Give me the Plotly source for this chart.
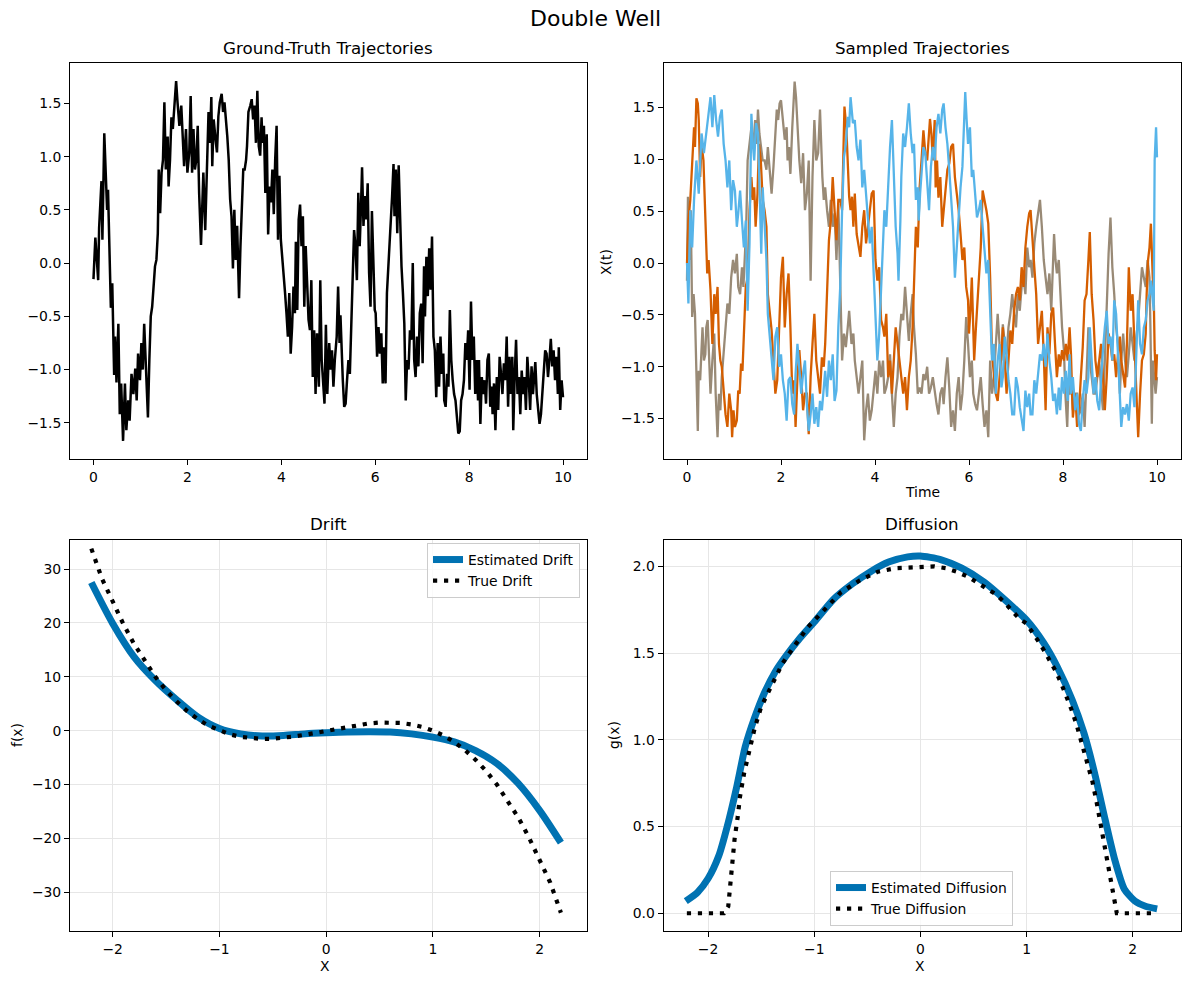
import plotly.graph_objects as go

# ---------------- data ----------------
gt_time = [
    0.00, 0.04, 0.10, 0.12, 0.17, 0.19, 0.23, 0.26, 0.29, 0.31,
    0.34, 0.37, 0.40, 0.44, 0.46, 0.49, 0.53, 0.56, 0.59, 0.63,
    0.67, 0.70, 0.74, 0.77, 0.81, 0.85, 0.89, 0.92, 0.95, 0.99,
    1.02, 1.05, 1.08, 1.11, 1.14, 1.16, 1.19, 1.22, 1.25, 1.28,
    1.31, 1.34, 1.37, 1.39, 1.42, 1.45, 1.48, 1.51, 1.54, 1.58,
    1.60, 1.63, 1.66, 1.69, 1.73, 1.76, 1.79, 1.83, 1.87, 1.90,
    1.93, 1.97, 2.00, 2.04, 2.07, 2.10, 2.13, 2.16, 2.19, 2.22,
    2.25, 2.29, 2.31, 2.34, 2.38, 2.42, 2.45, 2.48, 2.51, 2.53,
    2.56, 2.60, 2.63, 2.66, 2.69, 2.73, 2.76, 2.79, 2.82, 2.85,
    2.88, 2.91, 2.94, 2.97, 3.00, 3.03, 3.06, 3.10, 3.13, 3.16,
    3.19, 3.22, 3.25, 3.27, 3.30, 3.34, 3.37, 3.40, 3.43, 3.46,
    3.49, 3.52, 3.55, 3.58, 3.60, 3.63, 3.66, 3.69, 3.72, 3.75,
    3.78, 3.81, 3.84, 3.87, 3.90, 3.93, 3.96, 3.99, 4.02, 4.05,
    4.08, 4.11, 4.14, 4.17, 4.20, 4.23, 4.26, 4.29, 4.31, 4.34,
    4.37, 4.40, 4.43, 4.46, 4.49, 4.52, 4.55, 4.58, 4.61, 4.64,
    4.67, 4.70, 4.73, 4.76, 4.80, 4.83, 4.86, 4.89, 4.92, 4.95,
    4.98, 5.02, 5.05, 5.08, 5.11, 5.14, 5.18, 5.21, 5.24, 5.26,
    5.28, 5.31, 5.34, 5.37, 5.40, 5.43, 5.46, 5.49, 5.52, 5.55,
    5.58, 5.61, 5.64, 5.67, 5.70, 5.72, 5.75, 5.78, 5.81, 5.84,
    5.87, 5.90, 5.93, 5.96, 5.99, 6.01, 6.04, 6.07, 6.10, 6.13,
    6.16, 6.19, 6.22, 6.25, 6.28, 6.31, 6.34, 6.36, 6.39, 6.41,
    6.44, 6.47, 6.50, 6.53, 6.56, 6.59, 6.62, 6.65, 6.68, 6.71,
    6.74, 6.77, 6.80, 6.83, 6.86, 6.89, 6.92, 6.95, 6.98, 7.01,
    7.04, 7.06, 7.09, 7.12, 7.15, 7.18, 7.21, 7.24, 7.27, 7.30,
    7.33, 7.36, 7.39, 7.42, 7.45, 7.47, 7.50, 7.53, 7.56, 7.59,
    7.62, 7.65, 7.68, 7.71, 7.74, 7.77, 7.80, 7.83, 7.86, 7.89,
    7.92, 7.95, 7.98, 8.01, 8.04, 8.07, 8.10, 8.13, 8.16, 8.19,
    8.21, 8.24, 8.27, 8.30, 8.33, 8.36, 8.39, 8.42, 8.45, 8.48,
    8.50, 8.53, 8.56, 8.59, 8.62, 8.65, 8.68, 8.71, 8.74, 8.77,
    8.80, 8.83, 8.86, 8.89, 8.92, 8.94, 8.97, 9.00, 9.03, 9.06,
    9.09, 9.12, 9.15, 9.18, 9.21, 9.24, 9.27, 9.30, 9.33, 9.36,
    9.39, 9.41, 9.44, 9.47, 9.50, 9.53, 9.56, 9.59, 9.62, 9.65,
    9.68, 9.71, 9.74, 9.77, 9.80, 9.83, 9.86, 9.89, 9.91, 9.94,
    9.97, 10.00,
]
gt_value = [
    -0.15, 0.24, -0.16, 0.33, 0.77, 0.22, 1.22, 0.88, 0.50, 0.69,
    0.22, -0.42, -0.19, -1.05, -0.69, -1.12, -0.57, -1.42, -1.13, -1.67,
    -1.13, -1.57, -1.29, -1.48, -1.04, -1.23, -0.99, -1.29, -0.85, -1.10,
    -0.75, -1.00, -0.57, -0.91, -1.10, -1.45, -0.91, -0.50, -0.41, -0.22,
    -0.03, 0.03, 0.28, 0.88, 0.47, 0.85, 0.97, 1.51, 0.88, 1.19,
    0.72, 0.97, 1.37, 1.26, 1.54, 1.71, 1.51, 1.29, 1.48, 1.19,
    0.91, 1.26, 0.85, 1.04, 1.57, 0.85, 1.26, 0.88, 0.97, 1.29,
    0.66, 0.17, 0.53, 0.85, 0.31, 0.97, 1.42, 1.13, 1.56, 0.91,
    1.35, 1.16, 1.04, 1.38, 1.51, 1.59, 1.42, 1.51, 1.38, 1.19,
    0.97, 0.60, 0.44, -0.05, 0.50, 0.03, 0.35, -0.33, 0.16, 0.60,
    0.88, 0.88, 0.97, 1.10, 1.42, 1.48, 1.54, 1.35, 1.48, 1.13,
    1.62, 1.10, 1.01, 1.37, 1.13, 1.29, 0.66, 1.21, 0.27, 0.72,
    0.57, 0.88, 0.46, 0.97, 1.29, 0.22, 0.82, 0.22, 0.03, -0.19,
    -0.28, -0.47, -0.69, -0.28, -0.85, -0.60, -0.22, -0.47, 0.20, -0.44,
    0.41, 0.55, 0.16, 0.44, -0.41, 0.16, -0.25, -0.53, -0.63, -0.16,
    -1.07, -0.63, -1.23, -0.66, -1.16, -0.16, -0.91, -1.13, -1.32, -0.58,
    -1.23, -0.75, -1.00, -0.82, -1.16, -0.91, -0.69, -0.22, -0.75, -0.49,
    -0.82, -1.10, -1.35, -1.32, -1.10, -0.91, -1.04, -0.60, -0.35, 0.31,
    0.16, -0.16, 0.66, 0.16, 0.57, 0.90, 0.35, 0.63, 0.41, 0.75,
    -0.09, -0.41, 0.49, 0.03, -0.44, -0.47, -0.88, -0.60, -0.85, -0.66,
    -1.13, -0.79, -1.13, -0.28, -0.03, 0.25, 0.38, 0.63, 0.93, 0.44,
    0.88, 0.28, 0.92, 0.28, -0.03, -0.28, -0.57, -1.29, -0.91, -1.00,
    -0.63, -0.72, 0.00, -0.91, -1.07, -0.69, -0.97, -0.47, -0.38, -0.94,
    -0.03, -0.50, 0.06, -0.31, 0.14, -0.25, 0.25, -0.69, -0.82, -1.26,
    -0.75, -1.16, -0.69, -1.04, -0.85, -1.29, -1.35, -1.04, -1.16, -0.44,
    -0.91, -1.10, -1.23, -1.29, -1.42, -1.60, -1.58, -1.29, -1.23, -1.10,
    -0.75, -0.91, -0.63, -1.19, -0.36, -0.91, -0.69, -1.23, -0.91, -1.29,
    -0.91, -1.51, -1.07, -1.23, -1.10, -1.32, -0.91, -0.85, -1.35, -1.16,
    -1.42, -1.13, -1.57, -1.07, -1.38, -0.88, -1.04, -1.23, -0.94, -1.10,
    -0.69, -1.35, -0.88, -1.23, -0.88, -1.57, -1.07, -0.72, -1.23, -1.07,
    -1.42, -1.01, -1.23, -1.07, -1.38, -0.88, -1.10, -1.38, -0.97, -1.23,
    -1.04, -0.93, -1.23, -1.35, -1.51, -1.42, -1.23, -1.10, -0.82, -0.85,
    -1.07, -0.91, -0.71, -0.97, -0.82, -1.10, -0.88, -1.23, -0.79, -1.38,
    -1.10, -1.26,
]

blue_time = [
    0.00, 0.03, 0.07, 0.11, 0.15, 0.20, 0.25, 0.31, 0.36, 0.43,
    0.50, 0.54, 0.58, 0.62, 0.66, 0.70, 0.74, 0.78, 0.82, 0.86,
    0.90, 0.94, 0.98, 1.02, 1.06, 1.09, 1.13, 1.17, 1.21, 1.25,
    1.29, 1.33, 1.37, 1.40, 1.43, 1.47, 1.51, 1.55, 1.58, 1.61,
    1.65, 1.69, 1.72, 1.76, 1.80, 1.84, 1.88, 1.92, 1.96, 2.00,
    2.04, 2.08, 2.12, 2.16, 2.20, 2.24, 2.28, 2.31, 2.35, 2.39,
    2.43, 2.47, 2.51, 2.55, 2.59, 2.63, 2.67, 2.71, 2.75, 2.79,
    2.83, 2.87, 2.91, 2.94, 2.98, 3.02, 3.06, 3.10, 3.14, 3.18,
    3.22, 3.26, 3.30, 3.34, 3.38, 3.42, 3.45, 3.48, 3.53, 3.57,
    3.61, 3.65, 3.69, 3.73, 3.77, 3.81, 3.85, 3.89, 3.93, 3.97,
    4.01, 4.05, 4.09, 4.13, 4.17, 4.20, 4.24, 4.28, 4.32, 4.36,
    4.40, 4.44, 4.48, 4.50, 4.54, 4.56, 4.60, 4.64, 4.68, 4.72,
    4.76, 4.80, 4.83, 4.87, 4.91, 4.93, 4.96, 4.99, 5.03, 5.07,
    5.11, 5.15, 5.19, 5.23, 5.27, 5.31, 5.35, 5.39, 5.43, 5.46,
    5.50, 5.54, 5.58, 5.62, 5.66, 5.70, 5.74, 5.78, 5.82, 5.86,
    5.89, 5.92, 5.95, 5.98, 6.02, 6.06, 6.09, 6.13, 6.17, 6.21,
    6.25, 6.29, 6.33, 6.37, 6.41, 6.45, 6.49, 6.53, 6.57, 6.61,
    6.65, 6.69, 6.72, 6.76, 6.80, 6.84, 6.88, 6.92, 6.96, 7.00,
    7.04, 7.08, 7.12, 7.16, 7.20, 7.24, 7.28, 7.31, 7.35, 7.39,
    7.43, 7.47, 7.51, 7.55, 7.59, 7.63, 7.67, 7.71, 7.75, 7.79,
    7.83, 7.87, 7.91, 7.94, 7.98, 8.02, 8.06, 8.10, 8.14, 8.17,
    8.21, 8.26, 8.30, 8.34, 8.38, 8.42, 8.46, 8.50, 8.54, 8.57,
    8.61, 8.65, 8.69, 8.73, 8.77, 8.81, 8.85, 8.89, 8.93, 8.97,
    9.01, 9.05, 9.09, 9.13, 9.17, 9.21, 9.24, 9.28, 9.32, 9.36,
    9.40, 9.44, 9.48, 9.52, 9.56, 9.60, 9.64, 9.68, 9.72, 9.76,
    9.80, 9.84, 9.87, 9.91, 9.93, 9.95, 9.98, 10.00,
]
blue_value = [
    0.00, -0.39, 0.51, 0.15, 0.61, 0.99, 0.67, 1.25, 1.06, 1.31,
    1.60, 1.31, 1.62, 1.38, 1.22, 1.41, 1.48, 1.15, 0.99, 0.73,
    0.99, 0.51, 0.80, 0.70, 0.35, 0.48, 0.70, 0.41, 0.15, 0.41,
    -0.46, 0.19, 1.44, 1.15, 0.99, 1.35, 1.25, 0.61, 0.09, 0.73,
    0.35, 0.03, -0.49, -0.68, -0.94, -1.13, -0.71, -0.62, -1.00, -0.88,
    -1.13, -1.26, -1.52, -1.13, -1.10, -1.36, -1.46, -1.07, -0.78, -1.04,
    -1.26, -1.07, -0.94, -1.36, -1.62, -1.46, -1.26, -1.55, -1.39, -1.58,
    -1.33, -1.42, -1.20, -1.04, -1.29, -0.94, -1.13, -0.88, -1.33, -1.23,
    -0.62, -0.23, 0.51, 1.02, 1.15, 1.41, 1.31, 1.60, 1.35, 1.38,
    1.12, 0.99, 1.19, 0.73, 0.90, 0.67, 0.44, 0.19, 0.35, -0.14,
    -0.62, -0.94, -0.68, -0.30, 0.15, 0.51, 0.35, 0.83, 1.12, 1.38,
    0.83, 0.35, 0.09, -0.17, 0.41, 0.83, 1.25, 1.12, 1.31, 1.54,
    1.25, 1.06, 1.15, 0.61, 0.73, 0.41, 0.67, 0.83, 1.12, 1.06,
    0.83, 0.51, 0.93, 1.12, 0.99, 1.31, 1.44, 1.25, 1.48, 1.54,
    1.31, 1.15, 0.90, 0.67, 0.35, -0.14, 0.15, 0.51, 0.73, 0.93,
    1.31, 1.65, 1.38, 1.15, 1.31, 0.83, 0.90, 0.70, 0.44, 0.51,
    0.61, 0.35, 0.15, -0.10, 0.03, -0.39, -0.94, -0.78, -1.26, -0.94,
    -0.78, -1.20, -1.10, -0.71, -0.88, -1.13, -1.26, -1.46, -1.46, -1.10,
    -1.20, -1.39, -1.52, -1.62, -1.23, -1.39, -1.26, -1.46, -1.46, -1.13,
    -1.26, -1.10, -0.88, -0.94, -0.78, -1.00, -0.68, -0.94, -1.10, -1.33,
    -1.26, -1.46, -1.20, -1.42, -1.10, -1.26, -1.04, -1.33, -0.88, -1.26,
    -1.10, -1.42, -1.26, -1.55, -1.62, -1.33, -1.13, -1.26, -1.10, -0.62,
    -0.94, -1.26, -1.10, -1.33, -1.42, -1.10, -0.84, -0.62, -0.46, -0.78,
    -0.71, -0.94, -0.36, -0.49, -0.94, -1.26, -1.58, -1.39, -1.46, -1.36,
    -1.52, -1.26, -1.20, -1.39, -0.94, -0.36, -0.78, -0.88, -0.62, -0.55,
    -0.36, -0.30, -0.17, -0.43, -0.46, 0.99, 1.31, 1.02,
]

orange_time = [
    0.00, 0.03, 0.07, 0.11, 0.15, 0.17, 0.20, 0.23, 0.25, 0.28,
    0.31, 0.35, 0.39, 0.43, 0.46, 0.50, 0.54, 0.58, 0.61, 0.65,
    0.68, 0.71, 0.74, 0.78, 0.82, 0.86, 0.90, 0.94, 0.96, 0.99,
    1.02, 1.06, 1.09, 1.12, 1.15, 1.18, 1.21, 1.25, 1.29, 1.33,
    1.37, 1.40, 1.43, 1.46, 1.50, 1.53, 1.57, 1.61, 1.65, 1.69,
    1.72, 1.76, 1.80, 1.84, 1.88, 1.92, 1.96, 2.00, 2.04, 2.08,
    2.12, 2.16, 2.20, 2.24, 2.28, 2.31, 2.35, 2.39, 2.43, 2.47,
    2.51, 2.55, 2.59, 2.63, 2.67, 2.71, 2.75, 2.79, 2.83, 2.87,
    2.91, 2.94, 2.98, 3.02, 3.06, 3.10, 3.14, 3.18, 3.22, 3.26,
    3.30, 3.34, 3.35, 3.39, 3.42, 3.45, 3.48, 3.51, 3.54, 3.57,
    3.61, 3.65, 3.69, 3.73, 3.77, 3.81, 3.85, 3.89, 3.93, 3.97,
    4.01, 4.05, 4.09, 4.13, 4.17, 4.20, 4.24, 4.28, 4.32, 4.36,
    4.40, 4.44, 4.48, 4.52, 4.56, 4.60, 4.64, 4.68, 4.72, 4.76,
    4.80, 4.83, 4.87, 4.91, 4.95, 4.99, 5.03, 5.07, 5.11, 5.17,
    5.20, 5.23, 5.27, 5.29, 5.32, 5.35, 5.39, 5.43, 5.46, 5.50,
    5.54, 5.58, 5.62, 5.66, 5.70, 5.74, 5.78, 5.82, 5.86, 5.90,
    5.94, 5.98, 6.00, 6.03, 6.06, 6.09, 6.11, 6.14, 6.17, 6.21,
    6.25, 6.29, 6.33, 6.37, 6.41, 6.45, 6.49, 6.53, 6.57, 6.61,
    6.65, 6.69, 6.72, 6.76, 6.80, 6.84, 6.88, 6.92, 6.96, 7.00,
    7.04, 7.08, 7.12, 7.16, 7.20, 7.24, 7.28, 7.31, 7.35, 7.39,
    7.43, 7.47, 7.51, 7.55, 7.59, 7.63, 7.67, 7.71, 7.75, 7.79,
    7.83, 7.87, 7.91, 7.94, 7.98, 8.02, 8.06, 8.10, 8.14, 8.17,
    8.21, 8.26, 8.30, 8.34, 8.38, 8.42, 8.46, 8.50, 8.54, 8.57,
    8.61, 8.65, 8.69, 8.73, 8.77, 8.81, 8.85, 8.89, 8.93, 8.97,
    9.01, 9.05, 9.09, 9.13, 9.17, 9.21, 9.24, 9.28, 9.32, 9.36,
    9.40, 9.44, 9.48, 9.52, 9.56, 9.60, 9.64, 9.68, 9.72, 9.76,
    9.78, 9.81, 9.84, 9.87, 9.91, 9.93, 9.95, 9.98, 10.00,
]
orange_value = [
    0.00, 0.41, 0.61, 0.99, 1.31, 1.12, 1.59, 1.54, 1.38, 0.83,
    1.15, 0.99, 0.35, -0.10, 0.03, -0.26, -0.78, -0.30, -0.49, -0.23,
    -0.78, -0.94, -1.00, -1.26, -1.46, -1.58, -1.26, -1.42, -1.68, -1.42,
    -1.58, -1.52, -1.23, -1.26, -0.97, -1.04, -0.62, -0.23, -0.14, 0.51,
    0.83, 0.61, 0.73, 0.35, 0.67, 1.15, 0.99, 0.61, 0.51, 0.35,
    -0.30, -0.46, -0.65, -0.94, -1.26, -1.13, -0.62, -0.14, 0.06, -0.62,
    -0.30, -0.10, -0.62, -1.26, -1.13, -1.58, -1.10, -0.84, -1.10, -1.42,
    -1.26, -1.26, -1.65, -1.10, -0.78, -0.49, -0.94, -1.10, -1.26, -0.91,
    -1.00, -0.78, -0.30, 0.22, 0.41, 0.83, 0.51, 0.22, 0.61, 0.61,
    0.51, 1.15, 1.51, 1.31, 0.99, 0.64, 0.51, 0.64, 0.35, 0.67,
    0.28, 0.15, 0.06, 0.35, 0.51, 0.19, 0.35, 0.51, 0.67, 0.70,
    0.03, -0.17, -0.04, -0.55, -0.62, -0.71, -0.49, -1.10, -0.94, -1.26,
    -0.94, -0.62, -0.78, -0.94, -1.13, -1.26, -1.10, -1.42, -1.10, -0.94,
    -0.62, -0.26, 0.35, 0.15, 0.73, 0.99, 1.28, 1.06, 0.99, 1.39,
    1.25, 0.99, 1.38, 0.73, 0.99, 0.63, 0.83, 0.35, 0.51, 0.77,
    0.90, 0.96, 1.12, 1.15, 0.83, 0.67, 0.51, 0.28, 0.03, 0.15,
    -0.23, -0.36, -0.68, -0.46, -0.14, -0.62, -0.94, -0.68, -0.46, -0.10,
    0.15, 0.70, 0.61, 0.51, 0.38, -0.14, -0.88, -1.10, -1.26, -1.33,
    -1.13, -0.88, -0.62, -0.94, -1.26, -0.94, -0.65, -0.78, -0.46, -0.30,
    -0.23, -0.36, -0.04, -0.23, 0.15, 0.35, 0.48, 0.51, 0.19, -0.04,
    -0.30, -0.78, -0.62, -0.46, -0.88, -1.42, -0.62, -0.88, -0.49, -0.43,
    -0.78, -1.10, -0.88, -1.00, -0.84, -0.94, -0.78, -0.94, -0.62, -0.88,
    -1.49, -1.26, -1.58, -1.42, -1.10, -0.81, -0.36, -0.30, 0.03, 0.30,
    -0.30, -0.55, -0.94, -1.10, -0.94, -0.78, -1.10, -1.42, -1.10, -0.68,
    -0.78, -0.94, -0.88, -1.10, -0.88, -0.71, -0.94, -1.10, -1.20, -0.78,
    -0.04, -0.46, -0.30, -0.78, -1.20, -1.68, -1.26, -0.94, -0.88, -0.68,
    -0.30, 0.03, 0.15, 0.38, -0.14, -0.30, -0.84, -1.13, -0.88,
]

tan_time = [
    0.00, 0.02, 0.05, 0.08, 0.11, 0.14, 0.17, 0.20, 0.23, 0.25,
    0.28, 0.33, 0.36, 0.39, 0.41, 0.44, 0.47, 0.50, 0.54, 0.58,
    0.61, 0.65, 0.68, 0.71, 0.74, 0.78, 0.82, 0.86, 0.90, 0.94,
    0.98, 1.02, 1.06, 1.09, 1.13, 1.17, 1.20, 1.23, 1.26, 1.29,
    1.33, 1.37, 1.41, 1.45, 1.48, 1.51, 1.54, 1.57, 1.61, 1.65,
    1.69, 1.72, 1.76, 1.80, 1.84, 1.88, 1.91, 1.94, 1.97, 2.00,
    2.04, 2.08, 2.12, 2.14, 2.17, 2.20, 2.24, 2.27, 2.29, 2.32,
    2.35, 2.39, 2.43, 2.47, 2.51, 2.55, 2.59, 2.63, 2.67, 2.71,
    2.75, 2.79, 2.83, 2.85, 2.88, 2.91, 2.94, 2.98, 3.02, 3.06,
    3.10, 3.14, 3.18, 3.22, 3.26, 3.30, 3.34, 3.38, 3.42, 3.45,
    3.50, 3.54, 3.57, 3.61, 3.65, 3.69, 3.73, 3.77, 3.81, 3.85,
    3.89, 3.93, 3.97, 4.01, 4.05, 4.09, 4.13, 4.17, 4.20, 4.24,
    4.28, 4.32, 4.36, 4.40, 4.44, 4.48, 4.52, 4.56, 4.60, 4.64,
    4.68, 4.72, 4.76, 4.80, 4.83, 4.87, 4.91, 4.95, 4.99, 5.03,
    5.07, 5.11, 5.15, 5.19, 5.23, 5.27, 5.31, 5.35, 5.39, 5.43,
    5.46, 5.50, 5.54, 5.58, 5.62, 5.66, 5.70, 5.74, 5.78, 5.82,
    5.86, 5.90, 5.94, 5.98, 6.02, 6.06, 6.09, 6.13, 6.17, 6.21,
    6.25, 6.29, 6.33, 6.37, 6.41, 6.45, 6.49, 6.53, 6.57, 6.61,
    6.65, 6.69, 6.72, 6.76, 6.80, 6.84, 6.88, 6.92, 6.96, 7.00,
    7.04, 7.08, 7.12, 7.16, 7.20, 7.24, 7.28, 7.31, 7.35, 7.39,
    7.43, 7.47, 7.51, 7.55, 7.59, 7.63, 7.67, 7.71, 7.75, 7.79,
    7.81, 7.84, 7.87, 7.91, 7.94, 7.98, 8.02, 8.05, 8.09, 8.11,
    8.14, 8.17, 8.21, 8.26, 8.30, 8.34, 8.38, 8.42, 8.46, 8.50,
    8.54, 8.57, 8.61, 8.65, 8.69, 8.73, 8.77, 8.81, 8.85, 8.89,
    8.93, 8.97, 9.01, 9.05, 9.09, 9.13, 9.17, 9.21, 9.24, 9.28,
    9.32, 9.36, 9.40, 9.44, 9.48, 9.52, 9.56, 9.60, 9.64, 9.68,
    9.72, 9.76, 9.80, 9.84, 9.86, 9.89, 9.91, 9.94, 9.97, 10.00,
]
tan_value = [
    -0.17, 0.64, 0.03, 0.51, -0.52, -0.30, -0.49, -1.10, -1.62, -1.04,
    -1.13, -0.62, -0.94, -0.88, -0.62, -0.55, -0.94, -1.26, -0.94, -0.68,
    -1.26, -1.68, -1.26, -1.42, -1.10, -0.88, -0.62, -0.39, -0.49, -0.14,
    0.03, -0.10, 0.09, -0.23, -0.30, -0.04, -0.23, 0.15, 0.35, 0.99,
    1.15, 1.31, 1.12, 1.38, 1.15, 1.48, 1.25, 1.12, 0.99, 0.99,
    0.90, 1.12, 0.90, 0.67, 0.93, 1.31, 1.48, 1.38, 1.54, 1.57,
    1.38, 1.19, 1.31, 0.99, 1.12, 0.86, 1.31, 1.64, 1.75, 1.60,
    1.31, 0.99, 0.77, 1.06, 0.51, 0.67, 0.99, -0.17, 0.83, 1.38,
    0.99, 1.06, 1.48, 1.15, 0.83, 0.61, 0.73, 0.51, 0.35, 0.61,
    0.35, 0.48, 0.03, 0.57, -0.36, -0.94, -0.68, -0.81, -0.62, -0.46,
    -0.78, -0.68, -0.94, -1.10, -1.26, -1.10, -0.94, -1.71, -1.42, -1.26,
    -1.52, -1.42, -1.20, -1.04, -1.26, -0.94, -1.10, -0.94, -1.26, -1.20,
    -1.10, -0.88, -1.26, -1.58, -1.26, -1.10, -0.71, -0.49, -0.55, -0.23,
    -0.49, -0.75, -0.49, -0.30, -0.62, -0.88, -1.26, -1.20, -1.26, -1.07,
    -1.13, -1.00, -1.26, -1.20, -1.10, -1.26, -1.36, -1.46, -1.26, -1.20,
    -1.36, -1.10, -0.91, -1.20, -1.58, -1.42, -1.62, -1.26, -1.10, -1.42,
    -1.26, -0.94, -0.52, -0.78, -1.10, -0.94, -1.26, -1.36, -1.42, -1.26,
    -1.10, -1.36, -1.58, -1.42, -1.68, -0.94, -1.26, -1.10, -0.78, -0.49,
    -0.78, -0.94, -0.59, -0.78, -0.88, -0.62, -0.49, -0.30, -0.49, -0.62,
    -0.30, -0.46, -0.23, -0.14, -0.30, 0.15, -0.04, 0.03, -0.14, 0.19,
    0.35, 0.48, 0.61, 0.35, 0.03, -0.14, -0.30, -0.10, -0.46, 0.03,
    0.28, 0.03, -0.10, 0.03, -0.30, -0.62, -0.84, -1.26, -1.58, -1.26,
    -1.26, -1.10, -1.42, -1.26, -1.26, -1.46, -1.42, -1.26, -1.58, -1.10,
    -0.62, -0.94, -1.10, -1.26, -1.26, -1.10, -0.94, -1.20, -1.42, -0.94,
    -0.30, 0.09, 0.44, -0.04, -0.30, -0.62, -0.78, -1.26, -0.94, -0.68,
    -0.94, -1.10, -0.88, -0.62, -0.78, -0.94, -0.71, -0.55, -0.30, -0.04,
    -0.14, -0.23, 0.03, -0.14, -0.62, -1.55, -0.94, -1.10, -1.26, -1.10,
]

drift_x_est = [-2.2, -2.0, -1.8, -1.6, -1.4, -1.2, -1.0, -0.8, -0.6, -0.4, -0.2, 0.0,
               0.2, 0.4, 0.6, 0.8, 1.0, 1.2, 1.4, 1.6, 1.8, 2.0, 2.2]
drift_est = [27.5, 19.9, 13.7, 9.3, 5.7, 2.5, 0.4, -0.6, -1.0, -0.9, -0.6, -0.4,
             -0.25, -0.2, -0.25, -0.6, -1.2, -2.1, -3.7, -6.1, -9.8, -14.8, -20.8]

drift_x_true = [-2.2, -2.1, -2.0, -1.9, -1.8, -1.7, -1.6, -1.5, -1.4, -1.3, -1.2, -1.1,
                -1.0, -0.9, -0.8, -0.7, -0.6, -0.5, -0.4, -0.3, -0.2, -0.1, 0.0,
                0.1, 0.2, 0.3, 0.4, 0.5, 0.6, 0.7, 0.8, 0.9, 1.0, 1.1, 1.2,
                1.3, 1.4, 1.5, 1.6, 1.7, 1.8, 1.9, 2.0, 2.1, 2.2]
drift_true = [33.8, 28.2, 24.0, 19.8, 16.1, 12.9, 10.0, 7.5, 5.4, 3.6, 2.1, 0.9,
              0.0, -0.7, -1.15, -1.43, -1.54, -1.5, -1.34, -1.09, -0.77, -0.4, 0.0,
              0.4, 0.77, 1.09, 1.34, 1.5, 1.54, 1.43, 1.15, 0.7, 0.0, -0.9, -2.1,
              -3.6, -5.4, -7.5, -10.0, -12.9, -16.1, -19.8, -24.0, -28.2, -33.8]

diff_x_est = [-2.21, -2.10, -2.00, -1.90, -1.82, -1.73, -1.65, -1.56, -1.47, -1.37,
              -1.27, -1.13, -1.00, -0.82, -0.64, -0.47, -0.30, -0.12, 0.00, 0.19,
              0.39, 0.60, 0.81, 1.00, 1.16, 1.29, 1.43, 1.54, 1.64, 1.74,
              1.83, 1.92, 2.02, 2.12, 2.23]
diff_est = [0.07, 0.12, 0.20, 0.33, 0.50, 0.73, 0.96, 1.13, 1.27, 1.39,
            1.48, 1.59, 1.68, 1.81, 1.90, 1.97, 2.025, 2.055, 2.06, 2.04,
            1.99, 1.91, 1.80, 1.69, 1.56, 1.42, 1.23, 1.04, 0.81, 0.54,
            0.31, 0.14, 0.07, 0.04, 0.025]

diff_x_true = [-2.2, -2.1, -2.0, -1.9, -1.85, -1.81, -1.80, -1.785, -1.77, -1.75,
               -1.72, -1.70, -1.66, -1.61, -1.56, -1.50, -1.40, -1.30, -1.20, -1.06,
               -0.92, -0.75, -0.57, -0.40, -0.23, 0.0, 0.13, 0.24, 0.34, 0.45,
               0.53, 0.62, 0.71, 0.78, 0.84, 0.93, 1.00, 1.07, 1.12, 1.17,
               1.22, 1.28, 1.33, 1.37, 1.42, 1.47, 1.52, 1.57, 1.62, 1.66,
               1.70, 1.74, 1.78, 1.82, 1.85, 1.9, 2.0, 2.1, 2.2]
diff_true = [0.0, 0.0, 0.0, 0.0, 0.0, 0.04, 0.11, 0.18, 0.29, 0.43,
             0.56, 0.67, 0.81, 0.94, 1.07, 1.19, 1.32, 1.44, 1.53, 1.65,
             1.74, 1.85, 1.92, 1.97, 1.99, 2.0, 2.0, 1.99, 1.97, 1.94,
             1.91, 1.88, 1.84, 1.80, 1.76, 1.70, 1.67, 1.61, 1.56, 1.51,
             1.46, 1.39, 1.32, 1.26, 1.18, 1.09, 0.98, 0.88, 0.76, 0.64,
             0.50, 0.36, 0.22, 0.08, 0.0, 0.0, 0.0, 0.0, 0.0]

# ---------------- styling ----------------
W, H = 1189, 985
FONT = "DejaVu Sans"
C_EST = "#0072B2"
C_ORANGE = "#D55E00"
C_SKY = "#56B4E9"
C_TAN = "#998A76"
DOT = "4.2px,6.8px"

fig = go.Figure()

fig.add_trace(go.Scatter(x=gt_time, y=gt_value, mode="lines",
                         line=dict(color="black", width=2.5),
                         showlegend=False, xaxis="x", yaxis="y"))

for t, v, c in [(tan_time, tan_value, C_TAN),
                (orange_time, orange_value, C_ORANGE),
                (blue_time, blue_value, C_SKY)]:
    fig.add_trace(go.Scatter(x=t, y=v, mode="lines", line=dict(color=c, width=2.3),
                             showlegend=False, xaxis="x2", yaxis="y2"))

fig.add_trace(go.Scatter(x=drift_x_est, y=drift_est, mode="lines", name="Estimated Drift",
                         line=dict(color=C_EST, width=7, shape="spline", smoothing=0.8),
                         xaxis="x3", yaxis="y3", legend="legend"))
fig.add_trace(go.Scatter(x=drift_x_true, y=drift_true, mode="lines", name="True Drift",
                         line=dict(color="black", width=4.2, dash=DOT),
                         xaxis="x3", yaxis="y3", legend="legend"))

fig.add_trace(go.Scatter(x=diff_x_est, y=diff_est, mode="lines", name="Estimated Diffusion",
                         line=dict(color=C_EST, width=7, shape="spline", smoothing=0.6),
                         xaxis="x4", yaxis="y4", legend="legend2"))
fig.add_trace(go.Scatter(x=diff_x_true, y=diff_true, mode="lines", name="True Diffusion",
                         line=dict(color="black", width=4.2, dash=DOT),
                         xaxis="x4", yaxis="y4", legend="legend2"))

tickfont = dict(family=FONT, size=13.9, color="black")
base = dict(showline=True, linecolor="black", linewidth=1, mirror=True,
            ticks="outside", ticklen=5, tickwidth=1, tickcolor="black",
            zeroline=False, showgrid=False, tickfont=tickfont)
grid = dict(showgrid=True, gridcolor="#e6e6e6", gridwidth=1)

colL = [70 / W, 586.5 / W]
colR = [663.5 / W, 1180.5 / W]
rowT = [1 - 459 / H, 1 - 63 / H]
rowB = [1 - 931 / H, 1 - 540 / H]

legend_style = dict(bgcolor="rgba(255,255,255,0.8)", bordercolor="#cccccc", borderwidth=1,
                    font=dict(family=FONT, size=13.9, color="black"), tracegroupgap=0)

fig.update_layout(
    width=W, height=H, margin=dict(l=0, r=0, t=0, b=0),
    paper_bgcolor="white", plot_bgcolor="white",
    font=dict(family=FONT, color="black"),
    xaxis=dict(base, domain=colL, anchor="y", range=[-0.5, 10.5], tick0=0, dtick=2),
    yaxis=dict(base, domain=rowT, anchor="x", range=[-1.84, 1.88], tick0=0, dtick=0.5, tickformat=".1f"),
    xaxis2=dict(base, domain=colR, anchor="y2", range=[-0.5, 10.5], tick0=0, dtick=2),
    yaxis2=dict(base, domain=rowT, anchor="x2", range=[-1.89, 1.93], tick0=0, dtick=0.5, tickformat=".1f"),
    xaxis3=dict(base, **grid, domain=colL, anchor="y3", range=[-2.40, 2.44], tick0=0, dtick=1),
    yaxis3=dict(base, **grid, domain=rowB, anchor="x3", range=[-37.2, 35.4], tick0=0, dtick=10),
    xaxis4=dict(base, **grid, domain=colR, anchor="y4", range=[-2.42, 2.45], tick0=0, dtick=1),
    yaxis4=dict(base, **grid, domain=rowB, anchor="x4", range=[-0.1025, 2.1525], tick0=0, dtick=0.5, tickformat=".1f"),
    legend=dict(legend_style, x=580 / W, y=1 - 543 / H, xanchor="right", yanchor="top"),
    legend2=dict(legend_style, x=921.5 / W, y=1 - 926 / H, xanchor="center", yanchor="bottom"),
)

def label(text, x, y, size=13.9, angle=0):
    fig.add_annotation(text=text, x=x / W, y=1 - y / H, xref="paper", yref="paper",
                       showarrow=False, xanchor="center", yanchor="middle",
                       textangle=angle, font=dict(family=FONT, size=size, color="black"))

label("Double Well", 595, 19, size=22)
label("Ground-Truth Trajectories", 328, 48, size=16.7)
label("Sampled Trajectories", 922, 48, size=16.7)
label("Drift", 328, 524, size=16.7)
label("Diffusion", 922, 524, size=16.7)
label("Time", 922, 492)
label("X(t)", 606, 262, angle=-90)
label("X", 325, 966)
label("X", 920, 966)
label("f(x)", 17, 735, angle=-90)
label("g(x)", 614, 735, angle=-90)

fig.write_html("out.html")
